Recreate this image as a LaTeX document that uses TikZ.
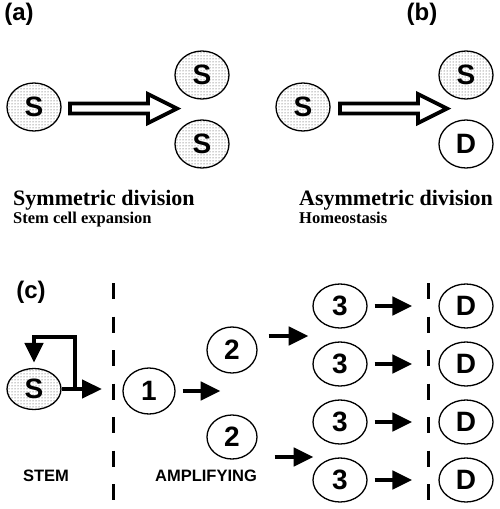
\documentclass[tikz,border=0pt]{standalone}
\usepackage{fontspec}
\setmainfont{Liberation Serif}
\setsansfont{Liberation Sans}
\usetikzlibrary{shapes.geometric,arrows.meta,patterns}

\tikzset{
  cell/.style={draw, ellipse, line width=1.3pt, inner sep=0pt, minimum width=54pt, minimum height=44pt,
    font=\sffamily\bfseries\fontsize{28}{28}\selectfont},
  stemcell/.style={cell, pattern=dots, pattern color=black!80},
  hollow/.style={draw, line width=3.8pt, line join=miter, fill=white},
  blk/.style={line width=4.5pt, line join=miter, -{Triangle[length=20pt,width=18pt]}},
  dline/.style={line width=3pt, dash pattern=on 16pt off 17.5pt},
  panel/.style={font=\sffamily\bfseries\fontsize{24}{24}\selectfont},
  zone/.style={font=\sffamily\bfseries\fontsize{16.5}{16.5}\selectfont},
  title/.style={anchor=base west, inner sep=0pt, font=\rmfamily\bfseries\fontsize{22}{22}\selectfont},
  subtitle/.style={anchor=base west, inner sep=0pt, font=\rmfamily\bfseries\fontsize{16.5}{16.5}\selectfont}
}

\begin{document}
\begin{tikzpicture}[x=1pt,y=-1pt]
        \useasboundingbox (0,0) rectangle (500,509);
        % (a) symmetric division
        \node [panel] (la) at (19,14) {(a)};
        \node [stemcell, minimum height=48pt] (sa) at (34,107) {S};
        \node [stemcell, minimum height=48pt] (sa1) at (202,75) {S};
        \node [stemcell, minimum height=48pt] (sa2) at (202,144) {S};
        \draw [hollow] (70,103.5) -- (148,103.5) -- (148,94) -- (177,108.5) -- (148,123) -- (148,113.5) -- (70,113.5) -- cycle;
        \node [title] (ta) at (13,205) {Symmetric division};
        \node [subtitle] (sta) at (13,223) {Stem cell expansion};
        % (b) asymmetric division
        \node [panel] (lb) at (422,14) {(b)};
        \node [stemcell, minimum height=48pt] (sb) at (303,107) {S};
        \node [stemcell, minimum height=48pt] (sb1) at (466,75) {S};
        \node [cell, minimum height=48pt] (db) at (466,144) {D};
        \draw [hollow, xshift=270pt] (70,103.5) -- (148,103.5) -- (148,94) -- (177,108.5) -- (148,123) -- (148,113.5) -- (70,113.5) -- cycle;
        \node [title] (tb) at (299,205) {Asymmetric division};
        \node [subtitle] (stb) at (299,223) {Homeostasis};
        % (c) lineage
        \node [panel] (lc) at (31,292) {(c)};
        \draw [dline] (113.5,283) -- (113.5,509);
        \draw [dline] (428,283) -- (428,509);
        \node [stemcell, minimum height=41pt] (sc) at (34,389) {S};
        \coordinate (fork) at (75,389);
        \coordinate (gate) at (102,389);
        \draw [blk] (sc.east) -- (gate);
        \draw [blk, shorten >=5pt] (fork) |- ([yshift=31pt]sc.north) -- (sc.north);
        \node [cell, minimum width=52pt, minimum height=46pt] (n1) at (149,391) {1};
        \draw [blk] ([xshift=7pt]n1.east) -- ++(38,0);
        \node [cell, minimum width=50pt, minimum height=46pt] (n2a) at (232,350) {2};
        \node [cell, minimum width=50pt, minimum height=44pt] (n2b) at (232,437) {2};
        \draw [blk] ([xshift=11pt,yshift=14pt]n2a.east) -- ++(40,0);
        \draw [blk] ([xshift=17pt,yshift=-20pt]n2b.east) -- ++(39,0);
        \foreach \r [count=\i] in {306,364,422,480} {
            \node [cell] (n3\i) at (340,\r) {3};
            \node [cell] (d\i) at (466,\r) {D};
            \draw [blk, shorten <=7pt, shorten >=26pt] (n3\i) -- (d\i);
        }
        \node [zone] (stem) at (46,476) {STEM};
        \node [zone] (amp) at (206,476) {AMPLIFYING};
    \end{tikzpicture}
\end{document}
